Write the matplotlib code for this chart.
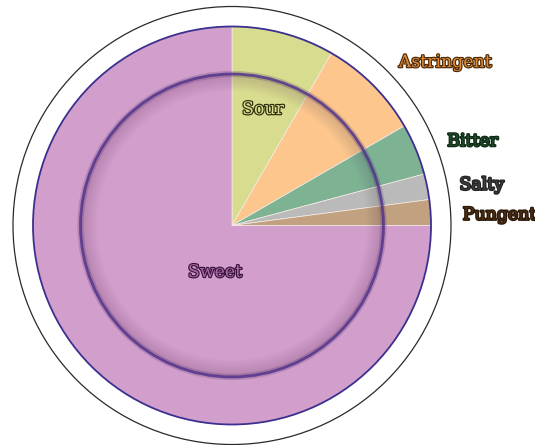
import numpy as np
import matplotlib.pyplot as plt
from matplotlib.patches import Circle, Wedge
import matplotlib.patheffects as pe

# taste shares (clockwise from 12 o'clock)
tastes = ["Sour", "Astringent", "Bitter", "Salty", "Pungent", "Sweet"]
shares = [4, 4, 2, 1, 1, 36]
slice_colors = ["#d7dc8e", "#fcc68c", "#7db393", "#bababa", "#c1a17f", "#d29fcc"]
text_fill = ["#d7dc8e", "#e08a34", "#1f4a2a", "#3d3d3d", "#4a2c12", "#a868a8"]
text_edge = ["#2e2e0a", "#4a2a08", "#0f2a16", "#222222", "#2a1808", "#3a163a"]
inside = [True, False, False, False, False, True]

W, H = 535, 445
cx, cy = 232, H - 225.5
R = 199          # pie radius
R_plate = 219    # outer plate circle
R_rim = 151.5    # inner plate rim

fig = plt.figure(figsize=(W / 100, H / 100), dpi=100)
ax = fig.add_axes([0, 0, 1, 1])

# plate outline
ax.add_patch(Circle((cx, cy), R_plate, fill=False, ec="#2a2a2a", lw=0.9))

wedges, _ = ax.pie(shares, colors=slice_colors, startangle=90, counterclock=False,
                   center=(cx, cy), radius=R,
                   wedgeprops=dict(edgecolor="#f6ece6", linewidth=0.5))
ax.add_patch(Circle((cx, cy), R, fill=False, ec="#3b2f8f", lw=1.3))

# inner rim shading (darker just inside the rim, fading inwards)
for k in range(14):
    ax.add_patch(Wedge((cx, cy), R_rim, 0, 360, width=1.5 + k * 1.2,
                       fc="#3a1a4a", ec="none", alpha=0.011))
ax.add_patch(Circle((cx, cy), R_rim, fill=False, ec="#4a2a6a", lw=4.5, alpha=0.22))
ax.add_patch(Circle((cx, cy), R_rim, fill=False, ec="#54358c", lw=2.0, alpha=0.85))

# labels
ang = np.cumsum([0] + shares) / sum(shares) * 360
mid = np.radians((ang[:-1] + ang[1:]) / 2)
for i, name in enumerate(tastes):
    fx = [pe.withStroke(linewidth=1.7, foreground=text_edge[i])]
    if inside[i]:
        if name == "Sweet":
            x, y = cx - 17, cy - 47
        else:
            x, y = cx + 120 * np.sin(mid[i]), cy + 120 * np.cos(mid[i])
        ha = "center"
    else:
        a = mid[i] + np.radians(1.2)
        x, y = cx + 231 * np.sin(a), cy + 231 * np.cos(a) + (3 if name == "Astringent" else 0)
        ha = "left"
    ax.text(x, y, name, ha=ha, va="center", fontsize=12.5, family="DejaVu Serif",
            color=text_fill[i], path_effects=fx)

ax.set_xlim(0, W)
ax.set_ylim(0, H)
ax.set_aspect("equal")
ax.axis("off")
fig.savefig("out.png", dpi=100)
